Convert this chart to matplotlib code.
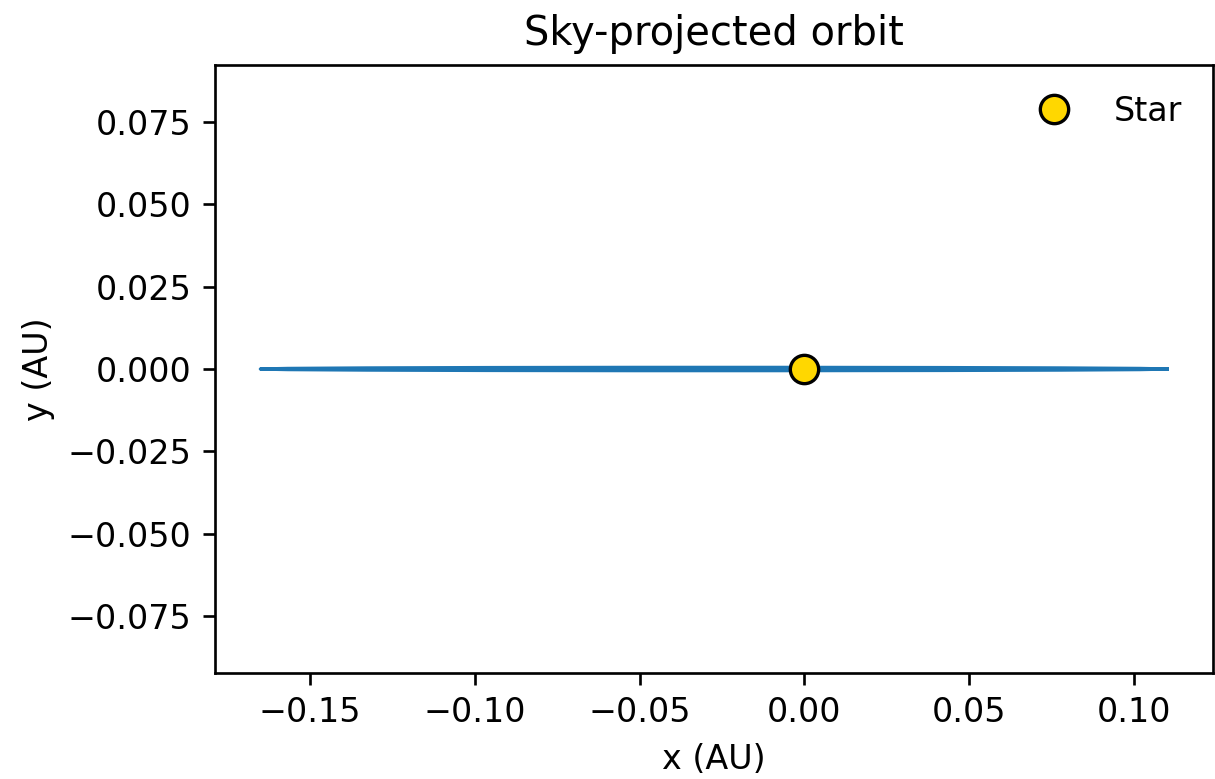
import matplotlib
matplotlib.use("Agg")
import matplotlib.pyplot as plt

# sky-projected orbit points (AU)
orbit_x = [0.110, 0.1017, 0.0778, 0.0413, -0.0036, -0.0514, -0.0963, -0.1328, -0.1567, -0.165,
           -0.1567, -0.1328, -0.0963, -0.0514, -0.0036, 0.0413, 0.0778, 0.1017, 0.110]
orbit_y = [0.0, 0.00017, 0.00032, 0.00043, 0.00049, 0.00049, 0.00043, 0.00032, 0.00017, 0.0,
           -0.00017, -0.00032, -0.00043, -0.00049, -0.00049, -0.00043, -0.00032, -0.00017, 0.0]
star_x = [0.0]
star_y = [0.0]

DPI = 240
fig = plt.figure(figsize=(1215 / DPI, 779 / DPI), dpi=DPI)
ax = fig.add_axes([0.177, 0.136, 0.821, 0.7806])

ax.plot(orbit_x, orbit_y, color='#1f77b4', lw=1.0)
ax.plot(star_x, star_y, 'o', ms=8.5, mfc='gold', mec='k', mew=1, linestyle='none', label='Star')
ax.set_aspect('equal', adjustable='datalim')
ax.set_title("Sky-projected orbit")
ax.set_xlabel("x (AU)")
ax.set_ylabel("y (AU)")
ax.legend(loc='upper right', frameon=False)

fig.savefig("out.png", dpi=DPI)
